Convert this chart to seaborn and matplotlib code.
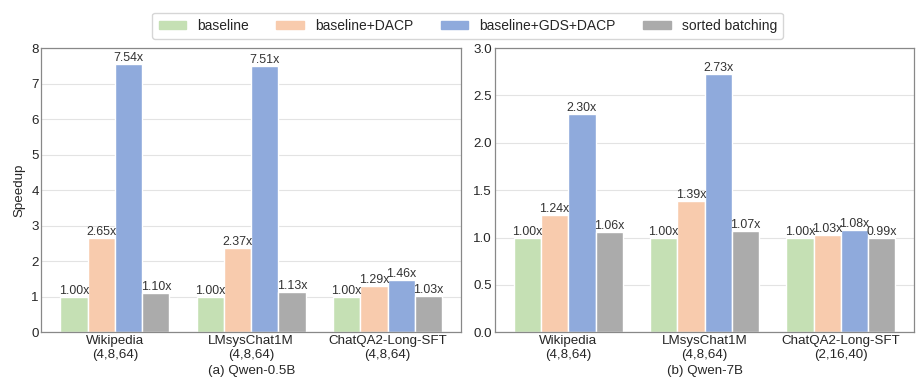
import matplotlib.pyplot as plt
import pandas as pd
import seaborn as sns

datasets = ['Wikipedia', 'LMsysChat1M', 'ChatQA2-Long-SFT']
configs_a = ['(4,8,64)', '(4,8,64)', '(4,8,64)']
configs_b = ['(4,8,64)', '(4,8,64)', '(2,16,40)']
methods = ['baseline', 'baseline+DACP', 'baseline+GDS+DACP', 'sorted batching']
colors = ['#c5e0b4', '#f8cbad', '#8faadc', '#ababab']

# speedups per method, one value per dataset
qwen05_baseline = [1.00, 1.00, 1.00]
qwen05_dacp = [2.65, 2.37, 1.29]
qwen05_gds_dacp = [7.54, 7.51, 1.46]
qwen05_sorted = [1.10, 1.13, 1.03]

qwen7_baseline = [1.00, 1.00, 1.00]
qwen7_dacp = [1.24, 1.39, 1.03]
qwen7_gds_dacp = [2.30, 2.73, 1.08]
qwen7_sorted = [1.06, 1.07, 0.99]


def to_long(series, configs):
    rows = []
    for method, vals in zip(methods, series):
        for d, c, v in zip(datasets, configs, vals):
            rows.append({'dataset': d + '\n' + c, 'method': method, 'speedup': v})
    return pd.DataFrame(rows)


df_a = to_long([qwen05_baseline, qwen05_dacp, qwen05_gds_dacp, qwen05_sorted], configs_a)
df_b = to_long([qwen7_baseline, qwen7_dacp, qwen7_gds_dacp, qwen7_sorted], configs_b)

sns.set_style('whitegrid')
plt.rcParams['font.family'] = ['Liberation Sans', 'DejaVu Sans']

fig, axes = plt.subplots(1, 2, figsize=(9.19, 3.85), dpi=100)
fig.subplots_adjust(left=0.045, right=0.995, top=0.875, bottom=0.137, wspace=0.08)

panels = [
    (axes[0], df_a, '(a) Qwen-0.5B', (0, 8), [0, 1, 2, 3, 4, 5, 6, 7, 8]),
    (axes[1], df_b, '(b) Qwen-7B', (0, 3.0), [0, 0.5, 1.0, 1.5, 2.0, 2.5, 3.0]),
]
for ax, df, sub, ylim, yticks in panels:
    sns.barplot(data=df, x='dataset', y='speedup', hue='method', palette=colors,
                hue_order=methods, ax=ax, edgecolor='white', linewidth=1,
                legend=False, width=0.8, saturation=1)
    for cont in ax.containers:
        ax.bar_label(cont, fmt='%.2fx', padding=0, fontsize=8.9, color='#333333')
    ax.set_ylim(*ylim)
    ax.set_yticks(yticks)
    if ylim[1] == 3.0:
        ax.set_yticklabels([f'{t:.1f}' for t in yticks])
    ax.set_xlim(-0.54, 2.54)
    ax.set_xlabel(sub, fontsize=9.6, labelpad=3)
    ax.set_ylabel('')
    ax.tick_params(axis='both', labelsize=9.6, pad=2, length=0)
    ax.grid(axis='x', visible=False)
    ax.grid(axis='y', color='#e3e3e3', linewidth=0.8)
    for s in ax.spines.values():
        s.set_color('#888888')
        s.set_linewidth(0.9)

axes[0].set_ylabel('Speedup', fontsize=9.6, labelpad=4)

handles = [plt.Rectangle((0, 0), 1, 1, color=c) for c in colors]
fig.legend(handles, methods, loc='upper center', ncol=4, bbox_to_anchor=(0.509, 0.985),
           fontsize=10, frameon=True, edgecolor='#cccccc', handlelength=2.0,
           handleheight=0.5, columnspacing=1.95, handletextpad=0.8, borderpad=0.45)

fig.savefig('out.png', dpi=100)
